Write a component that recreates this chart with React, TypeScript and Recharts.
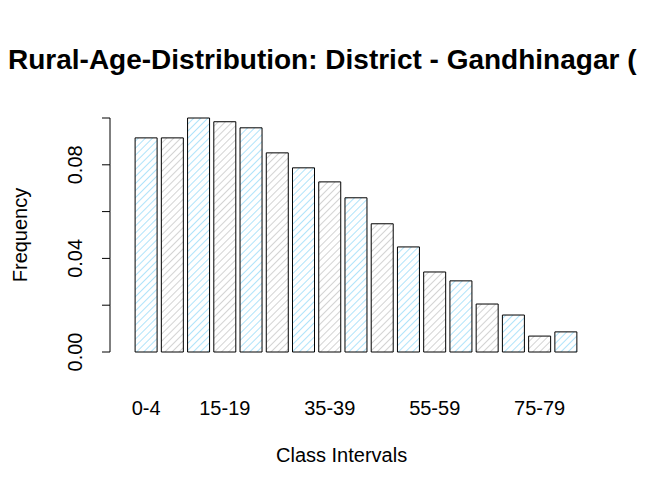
import { BarChart, Bar, XAxis, YAxis, Cell } from 'recharts';

const classes = ['0-4', '5-9', '10-14', '15-19', '20-24', '25-29', '30-34', '35-39', '40-44', '45-49', '50-54', '55-59', '60-64', '65-69', '70-74', '75-79', '80+'];
const freq = [0.0915, 0.0915, 0.1, 0.0984, 0.0958, 0.0851, 0.0787, 0.0727, 0.0659, 0.0548, 0.0449, 0.0342, 0.0304, 0.0205, 0.0158, 0.0068, 0.0086];
const shownLabels = ['0-4', '15-19', '35-39', '55-59', '75-79'];
const yTicks = [0, 0.02, 0.04, 0.06, 0.08, 0.1];
const yLabels = [0, 0.04, 0.08];

const data = classes.map((c, i) => ({ name: c, value: freq[i] }));
const font = '"Liberation Sans", Arial, sans-serif';

const XTick = (props: any) => {
  const { x, y, payload } = props;
  if (!shownLabels.includes(payload.value)) return null;
  return (
    <text x={x} y={y + 55} textAnchor="middle" fontSize={20} fontFamily={font} fill="#000">
      {payload.value}
    </text>
  );
};

const YTick = (props: any) => {
  const { x, y, payload } = props;
  const ax = x - 15;
  const seg = payload.value > 0 ? 46.8 : 0;
  return (
    <g>
      <line x1={ax} x2={ax} y1={y} y2={y + seg} stroke="#000" />
      <line x1={ax - 8} x2={ax} y1={y} y2={y} stroke="#000" />
      {yLabels.includes(payload.value) && (
        <text
          x={ax - 28}
          y={y}
          transform={`rotate(-90 ${ax - 28} ${y})`}
          textAnchor="middle"
          fontSize={20}
          fontFamily={font}
          fill="#000"
        >
          {payload.value.toFixed(2)}
        </text>
      )}
    </g>
  );
};

export default function App() {
  return (
    <div style={{ position: 'absolute', left: 0, top: 0, width: 655, height: 502, background: '#fff', overflow: 'hidden' }}>
      <div style={{ position: 'absolute', left: 8, top: 44, fontFamily: font, fontWeight: 'bold', fontSize: 28, whiteSpace: 'nowrap' }}>
        Rural-Age-Distribution: District - Gandhinagar (
      </div>
      <div style={{ position: 'absolute', left: 276, top: 444, fontFamily: font, fontSize: 20 }}>Class Intervals</div>
      <div style={{ position: 'absolute', left: 20, top: 235, transform: 'translate(-50%, -50%) rotate(-90deg)', fontFamily: font, fontSize: 20 }}>
        Frequency
      </div>
      <BarChart width={655} height={502} data={data} margin={{ top: 118, right: 76, left: 0, bottom: 0 }} barCategoryGap="8%">
        <defs>
          <pattern id="hatchBlue" width="5" height="5" patternUnits="userSpaceOnUse" patternTransform="rotate(45)">
            <line x1="0" y1="0" x2="0" y2="5" stroke="#5fc8f5" strokeWidth="1" />
          </pattern>
          <pattern id="hatchGray" width="5" height="5" patternUnits="userSpaceOnUse" patternTransform="rotate(45)">
            <line x1="0" y1="0" x2="0" y2="5" stroke="#a8a8a8" strokeWidth="1" />
          </pattern>
        </defs>
        <XAxis dataKey="name" height={150} axisLine={false} tickLine={false} tick={<XTick />} interval={0} />
        <YAxis width={133} domain={[0, 0.1]} ticks={yTicks} axisLine={false} tickLine={false} tick={<YTick />} />
        <Bar dataKey="value" stroke="#000" strokeWidth={1} isAnimationActive={false}>
          {data.map((_, i) => (
            <Cell key={i} fill={i % 2 === 0 ? 'url(#hatchBlue)' : 'url(#hatchGray)'} />
          ))}
        </Bar>
      </BarChart>
    </div>
  );
}
